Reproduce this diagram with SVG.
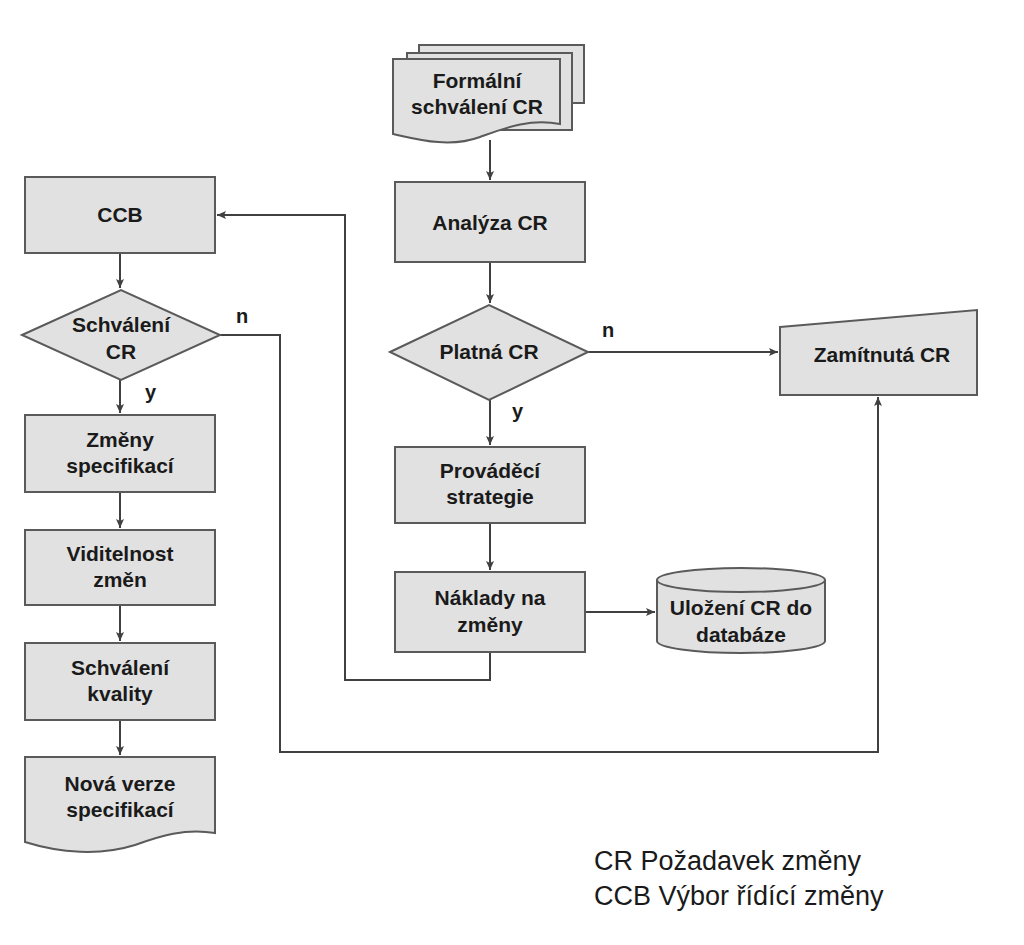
<svg xmlns="http://www.w3.org/2000/svg" width="1024" height="945" viewBox="0 0 1024 945">
<style>
.n{fill:#e1e1e1;stroke:#5a5a5a;stroke-width:2}
.t{font-family:"Liberation Sans",Arial,sans-serif;font-weight:bold;font-size:21px;fill:#1a1a1a;text-anchor:middle}
.l{font-family:"Liberation Sans",Arial,sans-serif;font-weight:bold;font-size:20px;fill:#1a1a1a}
.c{fill:none;stroke:#404040;stroke-width:2}
.g{font-family:"Liberation Sans",Arial,sans-serif;font-size:27px;fill:#1a1a1a}
</style>
<defs>
<marker id="a" markerWidth="10" markerHeight="10" refX="9" refY="5" orient="auto" markerUnits="userSpaceOnUse">
<path d="M0,1 L9,5 L0,9 L2,5 Z" fill="#404040"/>
</marker>
</defs>
<rect width="1024" height="945" fill="#fff"/>
<g id="connectors">
<path class="c" d="M490,140 V180" marker-end="url(#a)"/>
<path class="c" d="M490,262 V303" marker-end="url(#a)"/>
<path class="c" d="M588,352 H778" marker-end="url(#a)"/>
<path class="c" d="M490,400 V445" marker-end="url(#a)"/>
<path class="c" d="M490,523 V570" marker-end="url(#a)"/>
<path class="c" d="M585,612 H655" marker-end="url(#a)"/>
<path class="c" d="M490,652 V680 H345 V215 H217" marker-end="url(#a)"/>
<path class="c" d="M120,253 V288" marker-end="url(#a)"/>
<path class="c" d="M220,335 H280 V752 H878 V397" marker-end="url(#a)"/>
<path class="c" d="M120,380 V413" marker-end="url(#a)"/>
<path class="c" d="M120,492 V528" marker-end="url(#a)"/>
<path class="c" d="M120,605 V641" marker-end="url(#a)"/>
<path class="c" d="M120,720 V755" marker-end="url(#a)"/>
<text class="l" x="236" y="323">n</text>
<text class="l" x="145" y="399">y</text>
<text class="l" x="602" y="337">n</text>
<text class="l" x="512" y="418">y</text>
</g>
<g id="formalni">
<rect class="n" x="419" y="45" width="165" height="58"/>
<rect class="n" x="407" y="53" width="165" height="77"/>
<path class="n" d="M393,59 H560 V124 C530,118 505,128 480,137 C450,148 420,140 393,134 Z"/>
<text class="t" x="477" y="88">Formální</text>
<text class="t" x="477" y="114">schválení CR</text>
</g>
<g id="analyza">
<rect class="n" x="395" y="182" width="190" height="80"/>
<text class="t" x="490" y="230">Analýza CR</text>
</g>
<g id="platna">
<path class="n" d="M390,352 L489,305 L588,352 L489,400 Z"/>
<text class="t" x="489" y="359">Platná CR</text>
</g>
<g id="zamitnuta">
<path class="n" d="M780,327 L977,310 V395 H780 Z"/>
<text class="t" x="882" y="362">Zamítnutá CR</text>
</g>
<g id="provadeci">
<rect class="n" x="395" y="447" width="190" height="76"/>
<text class="t" x="490" y="478">Prováděcí</text>
<text class="t" x="490" y="504">strategie</text>
</g>
<g id="naklady">
<rect class="n" x="395" y="572" width="190" height="80"/>
<text class="t" x="490" y="605">Náklady na</text>
<text class="t" x="490" y="632">změny</text>
</g>
<g id="ulozeni">
<path class="n" d="M657,580 V641 A84,12 0 0 0 825,641 V580 A84,12 0 0 0 657,580 Z"/>
<path class="n" d="M657,580 A84,12 0 0 0 825,580" fill="none"/>
<text class="t" x="741" y="615">Uložení CR do</text>
<text class="t" x="741" y="642">databáze</text>
</g>
<g id="ccb">
<rect class="n" x="25" y="177" width="190" height="76"/>
<text class="t" x="120" y="222">CCB</text>
</g>
<g id="schvaleni">
<path class="n" d="M22,335 L121,290 L220,335 L121,380 Z"/>
<text class="t" x="121" y="332">Schválení</text>
<text class="t" x="121" y="359">CR</text>
</g>
<g id="zmeny">
<rect class="n" x="25" y="415" width="190" height="77"/>
<text class="t" x="120" y="447">Změny</text>
<text class="t" x="120" y="473">specifikací</text>
</g>
<g id="viditelnost">
<rect class="n" x="25" y="530" width="190" height="75"/>
<text class="t" x="120" y="561">Viditelnost</text>
<text class="t" x="120" y="587">změn</text>
</g>
<g id="kvalita">
<rect class="n" x="25" y="643" width="190" height="77"/>
<text class="t" x="120" y="675">Schválení</text>
<text class="t" x="120" y="701">kvality</text>
</g>
<g id="nova">
<path class="n" d="M25,757 H215 V833 C185,828 160,836 135,845 C100,856 60,853 25,842 Z"/>
<text class="t" x="120" y="791">Nová verze</text>
<text class="t" x="120" y="817">specifikací</text>
</g>
<g id="legend">
<text class="g" x="594" y="870">CR Požadavek změny</text>
<text class="g" x="594" y="905">CCB Výbor řídící změny</text>
</g>
</svg>
